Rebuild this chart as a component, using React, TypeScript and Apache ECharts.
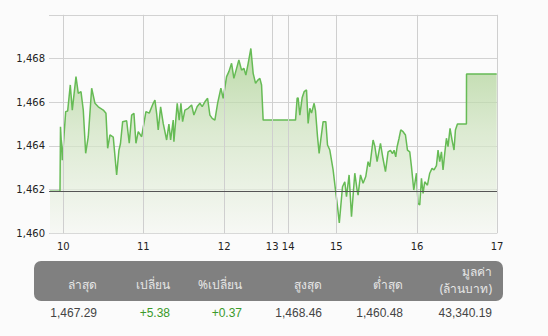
import React, { useEffect, useRef } from "react";
import * as echarts from "echarts";

// Session position (compressed intraday axis, units along the session) and index value
const sessionPos: number[] = [
  1, 11, 11.5, 13.3, 16.7, 18.7, 21.3, 23.3, 27, 29.3, 32, 34.3, 36.7, 39.3, 42.7, 46, 49.3, 54.3, 57, 58.7,
  61, 64.3, 67.7, 70, 71.5, 73.7, 77.7, 80.3, 82.7, 85, 87, 89.3, 92.7, 97, 100.3, 104.3, 106, 107.7, 109.3, 111.7,
  114.3, 117.7, 120, 121.7, 124.3, 125, 128.3, 130.3, 132, 133.7, 136, 139.3, 142.7, 145, 148.3, 151, 153.3, 156, 158.7, 161,
  163.3, 166, 168.7, 172, 174.3, 177.7, 180, 182.7, 185, 187.7, 190, 192.7, 195, 197, 199.3, 202, 204.3, 206.7, 208.7, 211,
  212.7, 214.3, 246.7, 248.3, 249.3, 251, 253.3, 255.3, 257.7, 259.3, 261, 262.7, 265.3, 266.7, 268.7, 270.3, 272, 274.3, 277, 278.7,
  281, 284.3, 286.7, 288.7, 290.5, 293.7, 296, 297.7, 300.3, 302.7, 306, 308.3, 309.3, 311.7, 314.3, 317, 319.3, 321, 324.3, 326,
  328.3, 331.7, 334.3, 336.7, 339.3, 341.7, 343.7, 345.3, 347, 348.3, 350.3, 352, 354.3, 356.7, 358.7, 361, 362.7, 365, 367.7, 369.3,
  371, 372.7, 374.3, 376, 378.7, 381, 383.3, 385.3, 387.7, 389.3, 391, 392.7, 394.3, 396, 397.7, 399.3, 401.3, 403.3, 405.3, 406.7,
  408.7, 417.7, 417.8, 448,
];
const indexValues: number[] = [
  1461.92, 1461.92, 1464.88, 1463.35, 1465.57, 1465.6, 1466.79, 1465.64, 1467.17, 1466.4, 1466.48, 1465.64, 1463.66, 1464.42, 1466.64, 1465.95, 1465.79, 1465.64, 1465.49, 1463.89,
  1464.5, 1464.4, 1462.67, 1463.81, 1464.1, 1465.11, 1465.15, 1464.12, 1465.41, 1465.49, 1464.12, 1464.65, 1464.42, 1465.57, 1465.5, 1465.95, 1466.1, 1465.49, 1464.73, 1465.79,
  1465.03, 1464.27, 1465.0, 1464.27, 1465.18, 1464.19, 1465.95, 1465.18, 1465.95, 1465.11, 1465.64, 1465.72, 1465.87, 1465.41, 1465.8, 1465.95, 1465.8, 1466.02, 1466.18, 1465.41,
  1465.26, 1465.18, 1465.95, 1466.64, 1466.18, 1467.17, 1467.4, 1467.78, 1467.09, 1467.55, 1467.93, 1467.47, 1467.55, 1467.24, 1467.78, 1468.46, 1467.32, 1466.86, 1467.0, 1467.09,
  1466.79, 1465.18, 1465.18, 1466.18, 1466.2, 1465.41, 1466.2, 1466.48, 1466.56, 1465.03, 1465.72, 1465.5, 1465.95, 1465.6, 1464.42, 1463.66, 1464.3, 1465.11, 1465.11, 1464.04,
  1463.81, 1462.9, 1461.98, 1461.22, 1460.48, 1462.13, 1462.36, 1461.68, 1462.67, 1460.76, 1462.75, 1461.98, 1461.75, 1462.67, 1462.29, 1462.6, 1463.28, 1463.05, 1464.27, 1464.0,
  1463.28, 1464.12, 1463.4, 1462.82, 1463.73, 1463.8, 1463.65, 1463.8, 1463.5, 1463.95, 1464.35, 1464.73, 1464.65, 1464.5, 1463.81, 1463.73, 1463.05, 1461.98, 1462.75, 1461.37,
  1461.3, 1462.52, 1461.83, 1462.36, 1462.2, 1462.75, 1462.97, 1462.9, 1463.1, 1463.81, 1463.28, 1463.73, 1462.9, 1463.66, 1464.35, 1463.97, 1464.8, 1464.27, 1463.81, 1464.73,
  1465.0, 1465.0, 1467.29, 1467.29,
];
const previousClose = 1461.92;

// X axis hour ticks (positions on the compressed session axis) and labels
const hourTickPos: number[] = [14.3, 94.3, 175.3, 223.3, 239.3, 287.5, 368.3, 448.3];
const hourLabels: string[] = ["10", "11", "12", "13", "14", "15", "16", "17"];

// Y axis
const yMin = 1460;
const yMax = 1470;
const yStep = 2;

// Summary table
const statHeaders: string[][] = [["ล่าสุด"], ["เปลี่ยน"], ["%เปลี่ยน"], ["สูงสุด"], ["ต่ำสุด"], ["มูลค่า", "(ล้านบาท)"]];
const statValues: string[] = ["1,467.29", "+5.38", "+0.37", "1,468.46", "1,460.48", "43,340.19"];
const statPositive: boolean[] = [false, true, true, false, false, false];

const colRight = [97, 170, 242, 322, 403, 492];

export default function App() {
  const ref = useRef<HTMLDivElement>(null);
  useEffect(() => {
    if (!ref.current) return;
    const chart = echarts.init(ref.current, null, { renderer: "svg" });
    const data = sessionPos.map((p, i) => [p, indexValues[i]]);

    const graphics: any[] = [
      {
        type: "rect",
        shape: { x: 34, y: 261, width: 469, height: 40, r: 7 },
        style: { fill: "#808080" },
        silent: true,
      },
    ];
    statHeaders.forEach((lines, i) => {
      if (lines.length === 1) {
        graphics.push({
          type: "text",
          x: colRight[i],
          y: 284,
          style: {
            text: lines[0],
            fill: "#e6e6e6",
            font: "12px Tahoma, 'Noto Sans', 'DejaVu Sans', sans-serif",
            align: "right",
            verticalAlign: "middle",
          },
        });
      } else {
        lines.forEach((t, j) => {
          graphics.push({
            type: "text",
            x: colRight[i],
            y: 271 + j * 17,
            style: {
              text: t,
              fill: "#e6e6e6",
              font: "12px Tahoma, 'Noto Sans', 'DejaVu Sans', sans-serif",
              align: "right",
              verticalAlign: "middle",
            },
          });
        });
      }
    });
    statValues.forEach((v, i) => {
      graphics.push({
        type: "text",
        x: colRight[i],
        y: 313,
        style: {
          text: v,
          fill: statPositive[i] ? "#3a9a2a" : "#444444",
          font: "12px 'Liberation Sans', Arial, sans-serif",
          align: "right",
          verticalAlign: "middle",
        },
      });
    });

    chart.setOption({
      animation: false,
      backgroundColor: "#fbfbfb",
      grid: { left: 49, right: 51, top: 14.8, bottom: 102.7 },
      xAxis: {
        type: "value",
        min: 0,
        max: 448.3,
        axisLine: { show: false },
        axisTick: { show: false },
        splitLine: { show: false },
        axisLabel: {
          customValues: hourTickPos,
          formatter: (v: number) => {
            const idx = hourTickPos.findIndex((p) => Math.abs(p - v) < 0.01);
            return idx >= 0 ? hourLabels[idx] : "";
          },
          color: "#222",
          fontFamily: "'DejaVu Sans', Verdana, sans-serif",
          fontSize: 10,
          margin: 8,
        },
      },
      yAxis: {
        type: "value",
        min: yMin,
        max: yMax,
        interval: yStep,
        axisLine: { show: false },
        axisTick: { show: false },
        splitLine: { show: true, lineStyle: { color: "#d2d2d2", width: 1 } },
        axisLabel: {
          showMaxLabel: false,
          formatter: (v: number) => (v === yMax ? "" : v.toLocaleString("en-US")),
          color: "#222",
          fontFamily: "'DejaVu Sans', Verdana, sans-serif",
          fontSize: 10,
          margin: 4,
        },
      },
      series: [
        {
          type: "line",
          data,
          showSymbol: false,
          symbol: "none",
          lineStyle: { color: "#66bb55", width: 1.5 },
          areaStyle: {
            origin: "start",
            color: new echarts.graphic.LinearGradient(0, 0, 0, 1, [
              { offset: 0, color: "#a2cc86" },
              { offset: 0.45, color: "#cfe3c0" },
              { offset: 1, color: "#f5f7f2" },
            ]),
          },
          markLine: {
            silent: true,
            symbol: "none",
            label: { show: false },
            data: [
              ...hourTickPos.map((p) => ({ xAxis: p, lineStyle: { color: "#cfcfcf", width: 1, type: "solid" } })),
              { yAxis: previousClose, lineStyle: { color: "#555555", width: 1, type: "solid" } },
            ],
          },
        },
      ],
      graphic: graphics,
    });
    return () => chart.dispose();
  }, []);
  return (
    <div
      ref={ref}
      style={{ position: "absolute", left: 0, top: 0, width: 548, height: 336 }}
    />
  );
}
